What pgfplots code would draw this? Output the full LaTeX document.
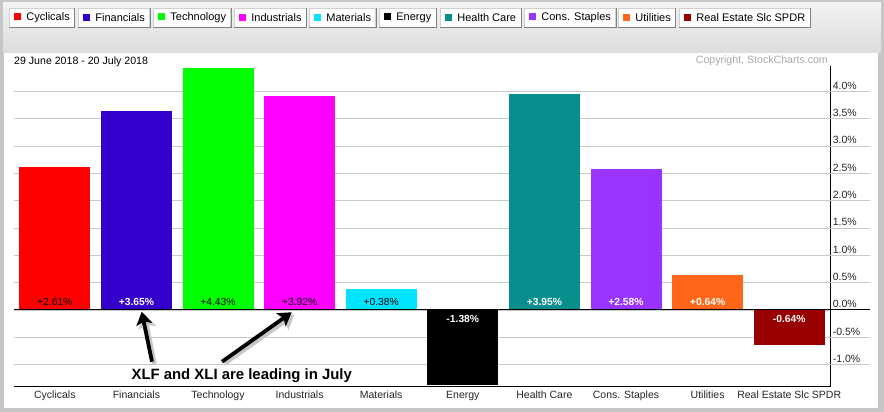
\documentclass[border=0pt]{standalone}
\usepackage{pgfplots}
\pgfplotsset{compat=1.18}
\usepackage{fontspec}
\setmainfont{Liberation Sans}
\usetikzlibrary{arrows.meta}
\definecolor{cCyc}{HTML}{FF0000}
\definecolor{cFin}{HTML}{3300CC}
\definecolor{cTech}{HTML}{00FF00}
\definecolor{cInd}{HTML}{FF00FF}
\definecolor{cMat}{HTML}{00E5FF}
\definecolor{cEne}{HTML}{000000}
\definecolor{cHC}{HTML}{098E8E}
\definecolor{cCS}{HTML}{9933FF}
\definecolor{cUti}{HTML}{FF6619}
\definecolor{cRE}{HTML}{990000}
\definecolor{frame}{HTML}{C6C6C6}
\definecolor{gridc}{HTML}{C8C8C8}
\definecolor{legtop}{HTML}{F2F2F2}
\definecolor{legbot}{HTML}{DCDCDC}
\definecolor{btnlight}{HTML}{D0D0D0}
\definecolor{btndark}{HTML}{808080}
\definecolor{copyc}{HTML}{A8A8A8}
\newcommand\btn[3]{%
  \node[anchor=west, fill=white, draw=btnlight, minimum height=19pt, inner xsep=4.6pt, inner ysep=0pt,
        font=\fontsize{11}{13}\selectfont] (b) at (#1,394.5)
        {\textcolor{#2}{\rule{7.6pt}{7.6pt}}\hspace{5pt}#3};
  \draw[btndark] (b.north east) -- (b.south east) -- (b.south west);}
\begin{document}
\begin{tikzpicture}[x=1pt,y=1pt]
\useasboundingbox (0,0) rectangle (884,412);
\fill[frame] (0,0) rectangle (884,412);
\shade[top color=legtop, bottom color=legbot] (3,359) rectangle (881,409);
\fill[white] (4,4) rectangle (878,359);
\btn{9}{cCyc}{Cyclicals}
\btn{78}{cFin}{Financials}
\btn{153}{cTech}{Technology}
\btn{234}{cInd}{Industrials}
\btn{309}{cMat}{Materials}
\btn{379}{cEne}{Energy}
\btn{440}{cHC}{Health Care}
\btn{524}{cCS}{Cons. Staples}
\btn{618}{cUti}{Utilities}
\btn{679}{cRE}{Real Estate Slc SPDR}
\node[anchor=base west, inner sep=0pt, font=\fontsize{10.6}{12}\selectfont] at (14,347.5) {29 June 2018 - 20 July 2018};
\node[anchor=base east, inner sep=0pt, text=copyc, font=\fontsize{10.6}{12}\selectfont] at (828,348) {Copyright, StockCharts.com};
\begin{axis}[
  at={(14pt,25.3pt)}, anchor=south west,
  scale only axis, width=816pt, height=320.7pt,
  xmin=-0.5, xmax=9.5, ymin=-1.405, ymax=4.465,
  axis x line*=bottom, axis y line*=right,
  axis line style={black, line width=0.9pt},
  clip=false,
  xtick={0,1,2,3,4,5,6,7,8,9},
  xticklabels={Cyclicals,Financials,Technology,Industrials,Materials,Energy,Health Care,Cons. Staples,Utilities,Real Estate Slc SPDR},
  xticklabel style={anchor=base, yshift=-11.6pt, inner sep=0pt, font=\fontsize{10.5}{12}\selectfont, text=black!85},
  ytick={-1,-0.5,0,0.5,1,1.5,2,2.5,3,3.5,4},
  yticklabel={\pgfmathprintnumber[fixed,fixed zerofill,precision=1]{\tick}\%},
  yticklabel style={anchor=base west, inner sep=0pt, xshift=2.7pt, yshift=2.2pt, font=\fontsize{10.5}{12}\selectfont, text=black!85},
  /pgf/number format/assume math mode=true,
  tick style={draw=none},
  ymajorgrids, grid style={gridc, line width=0.8pt},
]
\addplot[ybar, bar width=71pt, bar shift=0pt, fill=cCyc, draw=none] coordinates {(0,2.61)};
\addplot[ybar, bar width=71pt, bar shift=0pt, fill=cFin, draw=none] coordinates {(1,3.65)};
\addplot[ybar, bar width=71pt, bar shift=0pt, fill=cTech, draw=none] coordinates {(2,4.43)};
\addplot[ybar, bar width=71pt, bar shift=0pt, fill=cInd, draw=none] coordinates {(3,3.92)};
\addplot[ybar, bar width=71pt, bar shift=0pt, fill=cMat, draw=none] coordinates {(4,0.38)};
\addplot[ybar, bar width=71pt, bar shift=0pt, fill=cEne, draw=none] coordinates {(5,-1.38)};
\addplot[ybar, bar width=71pt, bar shift=0pt, fill=cHC, draw=none] coordinates {(6,3.95)};
\addplot[ybar, bar width=71pt, bar shift=0pt, fill=cCS, draw=none] coordinates {(7,2.58)};
\addplot[ybar, bar width=71pt, bar shift=0pt, fill=cUti, draw=none] coordinates {(8,0.64)};
\addplot[ybar, bar width=71pt, bar shift=0pt, fill=cRE, draw=none] coordinates {(9,-0.64)};
% value labels
\addplot[draw=none, mark=none, nodes near coords, point meta=explicit symbolic,
  nodes near coords style={anchor=center, yshift=8pt, inner sep=0pt, font=\fontsize{10.3}{12}\selectfont, text=black}]
  coordinates {(0,0) [+2.61\%] (2,0) [+4.43\%] (3,0) [+3.92\%] (4,0) [+0.38\%]};
\addplot[draw=none, mark=none, nodes near coords, point meta=explicit symbolic,
  nodes near coords style={anchor=center, yshift=8pt, inner sep=0pt, font=\fontsize{10.3}{12}\selectfont\bfseries, text=white}]
  coordinates {(1,0) [+3.65\%] (6,0) [+3.95\%] (7,0) [+2.58\%] (8,0) [+0.64\%]};
\addplot[draw=none, mark=none, nodes near coords, point meta=explicit symbolic,
  nodes near coords style={anchor=center, yshift=-9pt, inner sep=0pt, font=\fontsize{10.3}{12}\selectfont\bfseries, text=white}]
  coordinates {(5,0) [-1.38\%] (9,0) [-0.64\%]};
\pgfplotsinvokeforeach{-1,-0.5,0.5,1,1.5,2,2.5,3,3.5,4}{\draw[gridc, line width=0.8pt] (axis cs:9.5,#1) -- ++(40pt,0pt);}
\draw[black, line width=0.9pt] (axis cs:-0.5,0) -- (axis cs:9.5,0) -- ++(40pt,0pt);
\end{axis}
% annotation
\draw[line width=4.5pt, black!22, -{Stealth[length=14pt,width=18pt,inset=3pt]}] (154.5,48) -- (144.5,98);
\draw[line width=4.5pt, black!22, -{Stealth[length=14pt,width=18pt,inset=3pt]}] (224.5,48.5) -- (294.5,97.5);
\draw[line width=3.8pt, black, -{Stealth[length=13pt,width=16pt,inset=3pt]}] (152,50.3) -- (141.7,100.3);
\draw[line width=3.8pt, black, -{Stealth[length=13pt,width=16pt,inset=3pt]}] (222,50.3) -- (291.7,99.7);
\node[anchor=base, inner sep=0pt, font=\fontsize{14.9}{17}\selectfont\bfseries] at (241.7,32) {XLF and XLI are leading in July};
\end{tikzpicture}
\end{document}
